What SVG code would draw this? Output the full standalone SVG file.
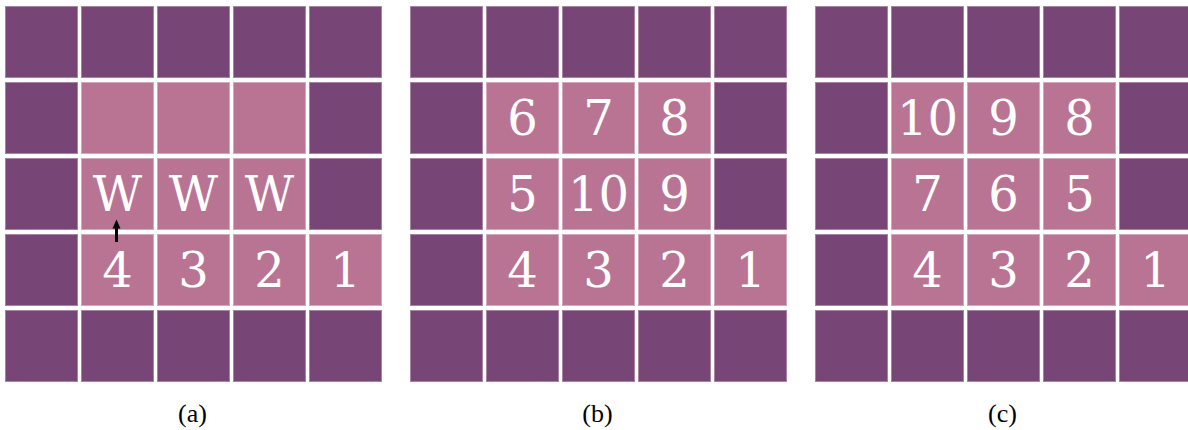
<svg xmlns="http://www.w3.org/2000/svg" width="1188" height="430" viewBox="0 0 1188 430">
<defs>
<style>
.d{fill:#774576;stroke:#a983a6;stroke-width:1}
.p{fill:#b97494;stroke:#d2a8bd;stroke-width:1}
.t{font-family:"DejaVu Serif",serif;font-size:48px;fill:#ffffff;text-anchor:middle}
.c{font-family:"Liberation Serif",serif;font-size:26px;fill:#000000;text-anchor:middle}
</style>
<g id="grid">
<rect class="d" x="5.5" y="6.5" width="72" height="71"/>
<rect class="d" x="81.5" y="6.5" width="72" height="71"/>
<rect class="d" x="157.5" y="6.5" width="72" height="71"/>
<rect class="d" x="233.5" y="6.5" width="72" height="71"/>
<rect class="d" x="309.5" y="6.5" width="72" height="71"/>
<rect class="d" x="5.5" y="82.5" width="72" height="71"/>
<rect class="p" x="81.5" y="82.5" width="72" height="71"/>
<rect class="p" x="157.5" y="82.5" width="72" height="71"/>
<rect class="p" x="233.5" y="82.5" width="72" height="71"/>
<rect class="d" x="309.5" y="82.5" width="72" height="71"/>
<rect class="d" x="5.5" y="158.5" width="72" height="71"/>
<rect class="p" x="81.5" y="158.5" width="72" height="71"/>
<rect class="p" x="157.5" y="158.5" width="72" height="71"/>
<rect class="p" x="233.5" y="158.5" width="72" height="71"/>
<rect class="d" x="309.5" y="158.5" width="72" height="71"/>
<rect class="d" x="5.5" y="234.5" width="72" height="71"/>
<rect class="p" x="81.5" y="234.5" width="72" height="71"/>
<rect class="p" x="157.5" y="234.5" width="72" height="71"/>
<rect class="p" x="233.5" y="234.5" width="72" height="71"/>
<rect class="p" x="309.5" y="234.5" width="72" height="71"/>
<rect class="d" x="5.5" y="310.5" width="72" height="71"/>
<rect class="d" x="81.5" y="310.5" width="72" height="71"/>
<rect class="d" x="157.5" y="310.5" width="72" height="71"/>
<rect class="d" x="233.5" y="310.5" width="72" height="71"/>
<rect class="d" x="309.5" y="310.5" width="72" height="71"/>
</g>
</defs>
<rect width="1188" height="430" fill="#ffffff"/>
<g id="panel-a">
<use href="#grid"/>
<text class="t" x="117.5" y="211">W</text>
<text class="t" x="193.5" y="211">W</text>
<text class="t" x="269.5" y="211">W</text>
<text class="t" x="117.5" y="287">4</text>
<text class="t" x="193.5" y="287">3</text>
<text class="t" x="269.5" y="287">2</text>
<text class="t" x="345.5" y="287">1</text>
<text class="c" x="192.5" y="422">(a)</text>
</g>
<g id="connectors">
<line x1="116.5" y1="242" x2="116.5" y2="227" stroke="#000" stroke-width="3"/>
<polygon points="116.5,219.5 112.5,228.5 120.5,228.5" fill="#000"/>
</g>
<g id="panel-b">
<use href="#grid" x="405"/>
<text class="t" x="522.5" y="135">6</text>
<text class="t" x="598.5" y="135">7</text>
<text class="t" x="674.5" y="135">8</text>
<text class="t" x="522.5" y="211">5</text>
<text class="t" x="598.5" y="211">10</text>
<text class="t" x="674.5" y="211">9</text>
<text class="t" x="522.5" y="287">4</text>
<text class="t" x="598.5" y="287">3</text>
<text class="t" x="674.5" y="287">2</text>
<text class="t" x="750.5" y="287">1</text>
<text class="c" x="597.5" y="422">(b)</text>
</g>
<g id="panel-c">
<use href="#grid" x="810"/>
<text class="t" x="927.5" y="135">10</text>
<text class="t" x="1003.5" y="135">9</text>
<text class="t" x="1079.5" y="135">8</text>
<text class="t" x="927.5" y="211">7</text>
<text class="t" x="1003.5" y="211">6</text>
<text class="t" x="1079.5" y="211">5</text>
<text class="t" x="927.5" y="287">4</text>
<text class="t" x="1003.5" y="287">3</text>
<text class="t" x="1079.5" y="287">2</text>
<text class="t" x="1155.5" y="287">1</text>
<text class="c" x="1002.5" y="422">(c)</text>
</g>
</svg>
